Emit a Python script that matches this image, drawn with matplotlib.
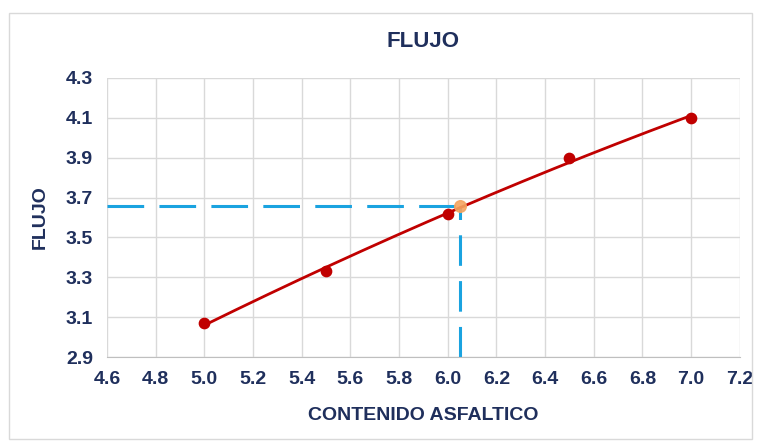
import numpy as np
import matplotlib
matplotlib.use("Agg")
import matplotlib.pyplot as plt
from matplotlib.patches import Rectangle

# Asphalt content vs. flow measurements
contenido = [5.0, 5.5, 6.0, 6.5, 7.0]
flujo = [3.07, 3.33, 3.62, 3.90, 4.10]

# Design value read from the trendline
contenido_opt = 6.05
flujo_opt = 3.66

x_ticks = [4.6, 4.8, 5.0, 5.2, 5.4, 5.6, 5.8, 6.0, 6.2, 6.4, 6.6, 6.8, 7.0, 7.2]
y_ticks = [2.9, 3.1, 3.3, 3.5, 3.7, 3.9, 4.1, 4.3]

navy = "#1f2f5c"
red = "#c00000"
blue = "#1aa3e0"

plt.rcParams["font.family"] = ["Liberation Sans Narrow", "Liberation Sans", "DejaVu Sans"]

fig = plt.figure(figsize=(7.69, 4.43), dpi=100)
fig.patches.append(Rectangle((0.012, 0.008), 0.966, 0.962, transform=fig.transFigure,
                             fill=False, edgecolor="#d9d9d9", linewidth=1.0))
ax = fig.add_axes([0.139, 0.194, 0.823, 0.630])

# Second-order trendline through the measured points
coef = np.polyfit(contenido, flujo, 2)
xs = np.linspace(min(contenido), max(contenido), 200)
ax.plot(xs, np.polyval(coef, xs), color=red, linewidth=2.0, zorder=3)
ax.scatter(contenido, flujo, s=55, color=red, zorder=4)

# Projection lines to the design point
ax.plot([x_ticks[0], contenido_opt], [flujo_opt, flujo_opt], color=blue,
        linewidth=2.2, dashes=(12, 5), zorder=2)
ax.plot([contenido_opt, contenido_opt], [y_ticks[0], flujo_opt], color=blue,
        linewidth=2.2, dashes=(10, 5), zorder=2)
ax.scatter([contenido_opt], [flujo_opt], s=70, color="#f4a460", zorder=5, alpha=0.9)

ax.set_xlim(x_ticks[0], x_ticks[-1])
ax.set_ylim(y_ticks[0], y_ticks[-1])
ax.set_xticks(x_ticks)
ax.set_yticks(y_ticks)
ax.set_xticklabels([f"{v:.1f}" for v in x_ticks])
ax.set_yticklabels([f"{v:.1f}" for v in y_ticks])
ax.grid(True, color="#d9d9d9", linewidth=1.0)
ax.set_axisbelow(True)
for side in ["top", "right", "left"]:
    ax.spines[side].set_visible(False)
ax.spines["bottom"].set_color("#bfbfbf")
ax.tick_params(length=0, pad=10, labelsize=14, colors=navy)
for lab in ax.get_xticklabels() + ax.get_yticklabels():
    lab.set_fontweight("bold")

ax.set_title("FLUJO", fontsize=16, fontweight="bold", color=navy, pad=22)
ax.set_xlabel("CONTENIDO ASFALTICO", fontsize=14, fontweight="bold", color=navy, labelpad=14)
ax.set_ylabel("FLUJO", fontsize=14, fontweight="bold", color=navy, labelpad=12)

fig.savefig("out.png", dpi=100)
